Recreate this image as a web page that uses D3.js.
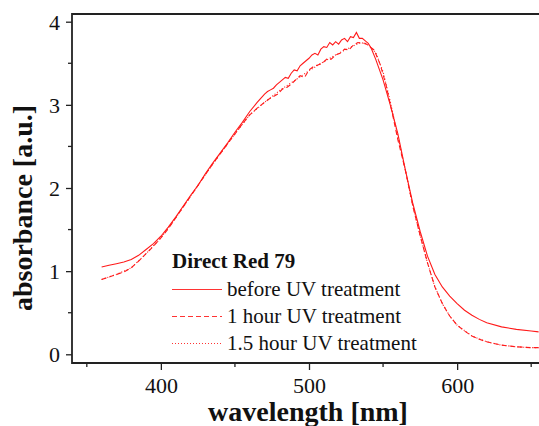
<!DOCTYPE html>
<html>
<head>
<meta charset="utf-8">
<script src="https://cdn.jsdelivr.net/npm/d3@7"></script>
<style>
  body { margin: 0; background: #fff; }
  svg { display: block; font-family: "Liberation Serif", "Times New Roman", serif; }
</style>
</head>
<body>
<div id="chart"></div>
<script>
// wavelength (nm) / absorbance
const wlBefore = [360,365,370,375,380,385,390,395,400,405,410,415,420,425,430,435,440,445,450,455,460,465,
  470,472,474,476,478,480,482,484,486,488,490,492,494,496,498,500,502,504,506,508,510,512,514,516,518,520,522,524,526,528,530,532,534,536,538,540,
  542,545,550,555,560,565,570,575,580,585,590,595,600,605,610,615,620,630,640,650,655];
const absBefore = [1.05,1.07,1.09,1.11,1.14,1.19,1.26,1.33,1.42,1.53,1.65,1.78,1.91,2.03,2.17,2.30,2.42,2.54,2.67,2.79,2.92,3.03,
  3.13,3.16,3.18,3.20,3.24,3.27,3.30,3.33,3.32,3.38,3.42,3.41,3.47,3.50,3.53,3.56,3.60,3.62,3.60,3.67,3.70,3.69,3.75,3.72,3.76,3.73,3.78,3.80,3.76,3.82,3.81,3.87,3.80,3.80,3.77,3.74,
  3.68,3.55,3.30,2.99,2.65,2.22,1.82,1.48,1.18,0.96,0.81,0.70,0.61,0.53,0.47,0.42,0.38,0.33,0.30,0.28,0.27];

const wl1h = [360,365,370,375,380,385,390,395,400,405,410,415,420,425,430,435,440,445,450,455,460,465,
  470,473,476,479,482,485,488,491,494,497,500,503,506,509,512,515,518,521,524,527,530,533,536,538,541,544,548,552,556,560,565,570,575,580,585,590,595,600,605,610,615,620,630,640,650,655];
const abs1h = [0.90,0.93,0.96,0.99,1.04,1.12,1.21,1.30,1.40,1.51,1.64,1.77,1.90,2.03,2.16,2.29,2.41,2.53,2.65,2.77,2.88,2.96,
  3.03,3.07,3.10,3.13,3.19,3.21,3.25,3.30,3.35,3.33,3.42,3.46,3.48,3.50,3.55,3.55,3.60,3.62,3.67,3.66,3.72,3.75,3.74,3.74,3.70,3.66,3.49,3.24,2.92,2.58,2.22,1.79,1.43,1.10,0.81,0.61,0.46,0.35,0.28,0.22,0.18,0.15,0.11,0.09,0.08,0.08];

const wl15h = [360,370,380,390,400,410,420,430,440,450,460,470,480,490,500,510,520,530,535,540,545,550,555,560,565,570,575,580,585,590,595,600,610,620,630,640,650,655];
const abs15h = [0.90,0.96,1.04,1.21,1.40,1.64,1.90,2.16,2.41,2.65,2.88,3.03,3.17,3.29,3.41,3.52,3.62,3.71,3.75,3.72,3.63,3.40,3.03,2.62,2.22,1.79,1.43,1.10,0.81,0.61,0.46,0.35,0.22,0.15,0.11,0.09,0.08,0.08];

const legendTitle = "Direct Red 79";
const seriesNames = ["before UV treatment", "1 hour UV treatment", "1.5 hour UV treatment"];
const xTicks = [400, 500, 600], xMinor = [350, 450, 550, 650];
const yTicks = [0, 1, 2, 3, 4], yMinor = [0.5, 1.5, 2.5, 3.5];

const width = 539, height = 426;
const mLeft = 72, mTop = 14, mBottom = 363, mRight = 546;

const svg = d3.select("#chart").append("svg")
  .attr("width", width).attr("height", height);

const x = d3.scaleLinear().domain([340, 660]).range([mLeft, mRight]);
const y = d3.scaleLinear().domain([0, 4]).range([354.3, 21.7]);

svg.append("clipPath").attr("id", "clip")
  .append("rect").attr("x", mLeft).attr("y", mTop).attr("width", mRight - mLeft).attr("height", mBottom - mTop);

// axes
const gx = svg.append("g").attr("transform", "translate(0," + mBottom + ")");
gx.call(d3.axisBottom(x).tickValues(xTicks).tickSize(7).tickSizeOuter(0).tickFormat(d3.format("d")));
gx.selectAll(".minor").data(xMinor).enter().append("line")
  .attr("class", "minor").attr("x1", d => x(d)).attr("x2", d => x(d)).attr("y1", 0).attr("y2", 4)
  .attr("stroke", "#222").attr("stroke-width", 1.3);
gx.selectAll("text").attr("dy", null).attr("y", 30).style("font-size", "22px").attr("fill", "#111");

const gy = svg.append("g").attr("transform", "translate(" + mLeft + ",0)");
gy.call(d3.axisLeft(y).tickValues(yTicks).tickSize(6).tickSizeOuter(0).tickFormat(d3.format("d")));
gy.selectAll(".minor").data(yMinor).enter().append("line")
  .attr("class", "minor").attr("x1", 0).attr("x2", -4).attr("y1", d => y(d)).attr("y2", d => y(d))
  .attr("stroke", "#222").attr("stroke-width", 1.3);
gy.selectAll("text").attr("dy", "0.34em").attr("x", -12).style("font-size", "22px").attr("fill", "#111");

svg.selectAll(".domain").remove();
svg.selectAll(".tick line").attr("stroke", "#222").attr("stroke-width", 1.3);
svg.selectAll(".tick text").style("font-family", "'Liberation Serif', serif");

// frame
svg.append("path")
  .attr("d", `M${mRight},${mTop}H${mLeft}V${mBottom}H${mRight}`)
  .attr("fill", "none").attr("stroke", "#222").attr("stroke-width", 1.8);

// curves
const line = d3.line().x(d => x(d[0])).y(d => y(d[1]));
const series = [
  { wl: wl15h, a: abs15h, dash: "1,2" },
  { wl: wl1h, a: abs1h, dash: "5,3" },
  { wl: wlBefore, a: absBefore, dash: null }
];
const plot = svg.append("g").attr("clip-path", "url(#clip)");
series.forEach(s => {
  plot.append("path")
    .datum(d3.zip(s.wl, s.a))
    .attr("d", line)
    .attr("fill", "none")
    .attr("stroke", "#ff1a1a")
    .attr("stroke-width", 1.1)
    .attr("stroke-dasharray", s.dash);
});

// legend
const lg = svg.append("g").attr("transform", "translate(172,268)");
lg.append("text").text(legendTitle)
  .style("font-size", "21px").style("font-weight", "bold").attr("fill", "#111");
const dashes = [null, "5,3", "1,2"];
seriesNames.forEach((name, i) => {
  const yy = 28 + i * 27;
  lg.append("line").attr("x1", 0).attr("x2", 50).attr("y1", yy - 6.5).attr("y2", yy - 6.5)
    .attr("stroke", "#ff3333").attr("stroke-width", 1.1).attr("stroke-dasharray", dashes[i]);
  lg.append("text").attr("x", 55).attr("y", yy).text(name)
    .style("font-size", "21px").attr("fill", "#111");
});

// axis titles
svg.append("text")
  .attr("x", 308).attr("y", 421)
  .attr("text-anchor", "middle")
  .style("font-size", "28px").style("font-weight", "bold").attr("fill", "#111")
  .text("wavelength [nm]");

svg.append("text")
  .attr("transform", "translate(32,208) rotate(-90)")
  .attr("text-anchor", "middle")
  .style("font-size", "28px").style("font-weight", "bold").attr("fill", "#111")
  .text("absorbance [a.u.]");
</script>
</body>
</html>
